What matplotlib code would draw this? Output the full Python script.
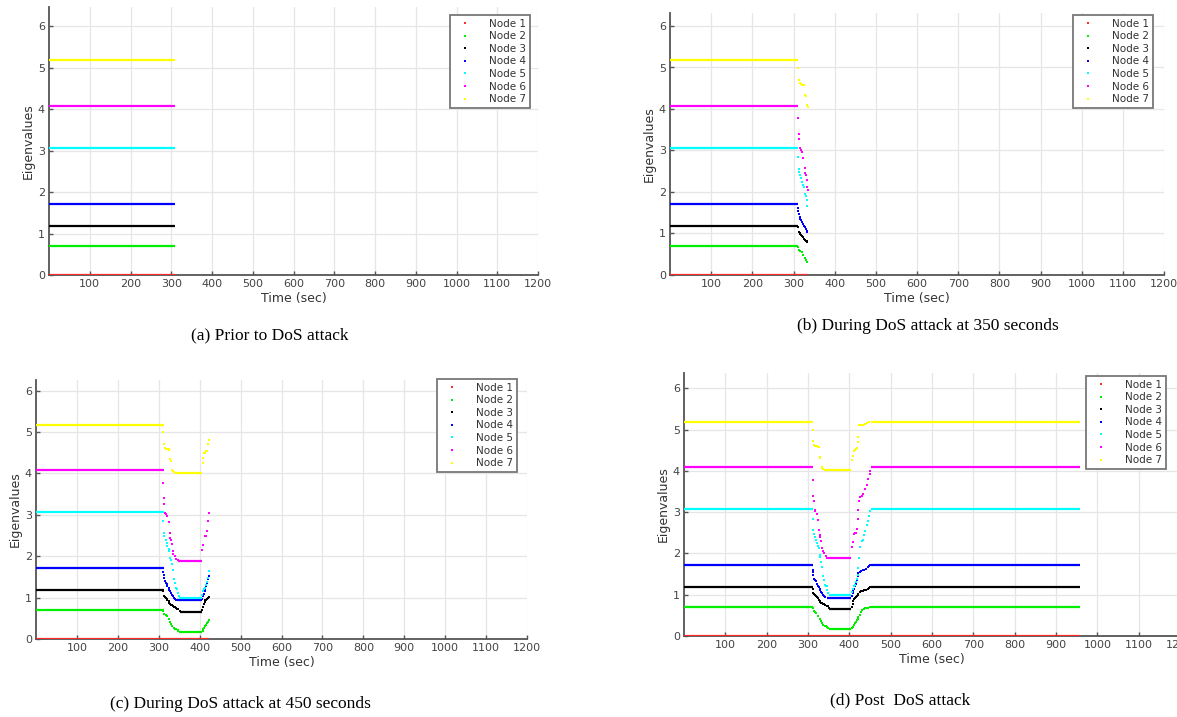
import matplotlib
matplotlib.use("Agg")
import matplotlib.pyplot as plt
from matplotlib.lines import Line2D

W, H, DPI = 1177, 717, 100

NODE_NAMES = ["Node 1", "Node 2", "Node 3", "Node 4", "Node 5", "Node 6", "Node 7"]
NODE_COLORS = ["#ff2a2a", "#00ee00", "#000000", "#0000ff", "#00ffff", "#ff00ff", "#ffff00"]

# steady-state eigenvalue per node
STEADY = [0.0, 0.70, 1.18, 1.72, 3.07, 4.08, 5.18]
ATTACK_START = 312
RECOVERED = 453
SIM_END = 958

# bottom plateau reached during the attack
BOTTOM_START = [312, 350, 352, 345, 350, 348, 339]
BOTTOM_END = [453, 405, 405, 405, 405, 405, 405]
BOTTOM_LEVEL = [0.0, 0.18, 0.66, 0.93, 1.00, 1.88, 4.01]

# scattered samples while falling / rising
DROP_T = [
    [],
    [311, 314, 317, 320, 324, 328, 331, 333, 337, 340, 343, 346, 348],
    [311, 313, 315, 317, 319, 321, 324, 326, 328, 330, 332, 334, 337, 339, 342, 345, 348, 351],
    [311, 312, 313, 315, 317, 319, 321, 324, 326, 328, 330, 332, 334, 337, 339, 342],
    [311, 313, 314, 317, 319, 321, 324, 326, 328, 330, 332, 334, 337, 339, 341, 343, 345, 347, 349],
    [311, 313, 314, 316, 318, 321, 324, 327, 328, 330, 332, 334, 336, 339, 343, 346],
    [311, 313, 315, 318, 321, 324, 326, 328, 330, 333, 335, 337],
]
DROP_V = [
    [],
    [0.67, 0.61, 0.58, 0.55, 0.48, 0.40, 0.36, 0.32, 0.27, 0.25, 0.24, 0.21, 0.19],
    [1.15, 1.03, 1.01, 0.99, 0.97, 0.95, 0.91, 0.87, 0.85, 0.83, 0.81, 0.80, 0.78, 0.77, 0.75, 0.73, 0.72, 0.68],
    [1.61, 1.55, 1.47, 1.39, 1.36, 1.33, 1.27, 1.22, 1.19, 1.15, 1.11, 1.07, 1.03, 1.00, 0.97, 0.95],
    [2.84, 2.56, 2.48, 2.40, 2.33, 2.25, 2.18, 2.12, 1.95, 1.91, 1.80, 1.66, 1.45, 1.35, 1.23, 1.22, 1.21, 1.12, 1.03],
    [3.78, 3.40, 3.27, 3.05, 3.02, 2.96, 2.82, 2.57, 2.45, 2.40, 2.30, 2.12, 2.06, 2.00, 1.93, 1.90],
    [4.99, 4.71, 4.62, 4.60, 4.59, 4.58, 4.57, 4.34, 4.31, 4.09, 4.06, 4.04],
]
RISE_T = [
    [],
    [407, 409, 411, 413, 416, 418, 420, 422, 425, 428, 431, 435, 438, 442, 446, 450],
    [406, 408, 410, 412, 414, 416, 418, 420, 422, 425, 428, 432, 436, 440, 444, 448, 451],
    [406, 408, 410, 412, 414, 416, 418, 420, 422, 425, 428, 432, 436, 440, 444, 448, 451],
    [406, 409, 411, 413, 416, 418, 420, 422, 424, 427, 430, 433, 436, 439, 442, 445, 448, 451],
    [406, 409, 412, 414, 416, 418, 420, 422, 424, 427, 430, 434, 438, 442, 446, 449, 451],
    [407, 409, 411, 413, 415, 418, 420, 422, 424, 428, 433, 438, 443, 448],
]
RISE_V = [
    [],
    [0.20, 0.23, 0.27, 0.31, 0.35, 0.39, 0.42, 0.45, 0.52, 0.58, 0.63, 0.65, 0.67, 0.68, 0.69, 0.70],
    [0.70, 0.77, 0.84, 0.89, 0.93, 0.95, 0.97, 0.99, 1.02, 1.06, 1.09, 1.10, 1.11, 1.12, 1.14, 1.16, 1.18],
    [0.97, 1.03, 1.09, 1.15, 1.20, 1.27, 1.35, 1.45, 1.52, 1.55, 1.57, 1.59, 1.60, 1.63, 1.66, 1.70, 1.72],
    [1.07, 1.15, 1.20, 1.23, 1.31, 1.38, 1.47, 1.65, 1.90, 2.15, 2.30, 2.33, 2.45, 2.55, 2.68, 2.78, 2.90, 3.02],
    [2.16, 2.28, 2.48, 2.49, 2.50, 2.60, 2.84, 3.05, 3.28, 3.36, 3.40, 3.44, 3.56, 3.65, 3.81, 3.92, 3.99],
    [4.25, 4.37, 4.49, 4.50, 4.53, 4.55, 4.70, 4.81, 5.10, 5.11, 5.12, 5.14, 5.16, 5.17],
]

# one snapshot per panel: last time shown
PANEL_CUTOFF = [310, 336, 422, 958]
PANEL_CAPTIONS = [
    "(a) Prior to DoS attack",
    "(b) During DoS attack at 350 seconds",
    "(c) During DoS attack at 450 seconds",
    "(d) Post  DoS attack",
]
X_TICKS = list(range(100, 1300, 100))
Y_TICKS = [0, 1, 2, 3, 4, 5, 6]

# pixel layout: left, x-axis y, width, ymax
AX_LAYOUT = [
    (49, 275, 489, 6.47),
    (670, 275, 494, 6.31),
    (36, 639, 491, 6.26),
    (684, 636, 496, 6.38),
]
Y_PX_PER_UNIT = [41.45, 41.5, 41.4, 41.3]
LEGEND_POS = [(530, 15), (1153, 15), (517, 379), (1166, 376)]
CAPTION_POS = [(270, 335), (928, 326), (240, 704), (900, 700)]

GRAY = "#555555"


def draw_panel(ax, cut):
    for i, col in enumerate(NODE_COLORS):
        kw = dict(color=col, lw=1.6, solid_capstyle="butt", zorder=3)
        ax.plot([0, min(ATTACK_START, cut)], [STEADY[i], STEADY[i]], **kw)
        if cut > BOTTOM_START[i]:
            ax.plot([BOTTOM_START[i], min(BOTTOM_END[i], cut)],
                    [BOTTOM_LEVEL[i], BOTTOM_LEVEL[i]], **kw)
        if cut > RECOVERED:
            ax.plot([RECOVERED, min(SIM_END, cut)], [STEADY[i], STEADY[i]], **kw)
        ts = [t for t in DROP_T[i] + RISE_T[i] if t <= cut]
        vs = [v for t, v in zip(DROP_T[i] + RISE_T[i], DROP_V[i] + RISE_V[i]) if t <= cut]
        if ts:
            ax.plot(ts, vs, ls="none", marker="s", ms=1.9, mew=0, color=col, zorder=3)


fig = plt.figure(figsize=(W / DPI, H / DPI), dpi=DPI)

for k in range(4):
    left, y0, width, ymax = AX_LAYOUT[k]
    h = ymax * Y_PX_PER_UNIT[k]
    ax = fig.add_axes([left / W, (H - y0) / H, width / W, h / H])
    draw_panel(ax, PANEL_CUTOFF[k])
    ax.set_xlim(0, 1200)
    ax.set_ylim(0, ymax)
    ax.set_xticks(X_TICKS)
    ax.set_yticks(Y_TICKS)
    ax.grid(True, color="#e6e6e6", lw=0.9)
    ax.set_axisbelow(True)
    for s in ["top", "right"]:
        ax.spines[s].set_visible(False)
    for s in ["left", "bottom"]:
        ax.spines[s].set_color(GRAY)
        ax.spines[s].set_linewidth(1.3)
    ax.tick_params(direction="in", length=3, width=1, color=GRAY,
                   labelcolor="#444444", labelsize=8, pad=3)
    ax.set_xlabel("Time (sec)", fontsize=9, color="#333333", labelpad=2)
    ax.set_ylabel("Eigenvalues", fontsize=9, color="#333333", labelpad=2)

    handles = [Line2D([], [], ls="none", marker="s", ms=1.8, mew=0, color=c)
               for c in NODE_COLORS]
    lx, ly = LEGEND_POS[k]
    leg = ax.legend(handles, NODE_NAMES, loc="upper right",
                    bbox_to_anchor=(lx / W, 1 - ly / H), bbox_transform=fig.transFigure,
                    borderaxespad=0, fontsize=7.5, labelspacing=0.25, handlelength=2.2,
                    handletextpad=1.2, borderpad=0.35, fancybox=False, framealpha=1)
    leg.get_frame().set_edgecolor("#777777")
    leg.get_frame().set_linewidth(1.3)
    for t in leg.get_texts():
        t.set_color("#333333")

    cx, cy = CAPTION_POS[k]
    fig.text(cx / W, 1 - cy / H, PANEL_CAPTIONS[k], ha="center", va="center",
             family="Liberation Serif", fontsize=12.5)

fig.savefig("out.png", dpi=DPI)
